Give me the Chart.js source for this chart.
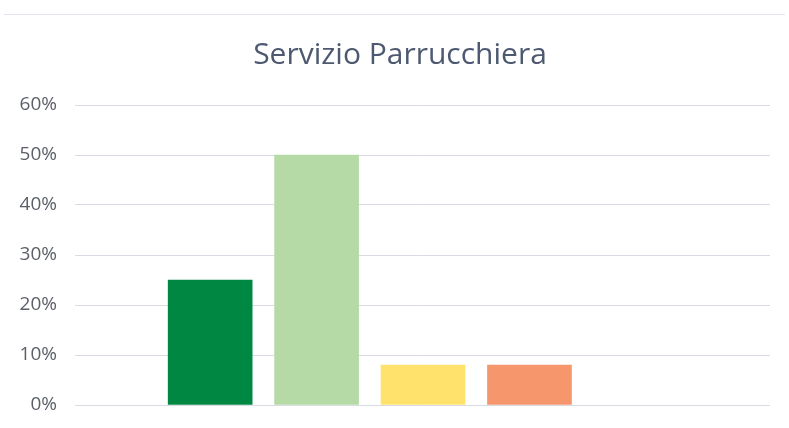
<!DOCTYPE html>
<html>
<head>
<meta charset="utf-8">
<script src="https://cdn.jsdelivr.net/npm/chart.js@4/dist/chart.umd.min.js"></script>
<style>
  html, body { margin: 0; padding: 0; background: #fff; }
  .wrap { position: relative; width: 789px; height: 428px; }
  .wrap::before {
    content: ''; position: absolute; left: 4px; right: 4px; top: 14px;
    border-top: 1px solid #e3e6ee;
  }
  canvas { display: block; }
</style>
</head>
<body>
<div class="wrap"><canvas id="chart" width="789" height="428"></canvas></div>
<script>
// ── DATA ──────────────────────────────────────────────────────────────
const TITLE      = 'Servizio Parrucchiera';
const CATEGORIES = ['Ottimo', 'Buono', 'Sufficiente', 'Scarso', 'Non risponde'];
const VALUES     = [0.25, 0.50, 0.08, 0.08, 0];
const COLORS     = ['#008843', '#b5daa5', '#ffe26c', '#f5966c', '#ffffff'];
const Y_TICKS    = [0, 0.1, 0.2, 0.3, 0.4, 0.5, 0.6];

// ── TITLE (drawn by hand so it can sit a little off the plot centre) ──
const titlePlugin = {
  id: 'centredTitle',
  afterDraw(chart) {
    const c = chart.ctx;
    c.save();
    c.font = '30px "Open Sans"';
    c.fillStyle = '#4d5970';
    c.textAlign = 'center';
    c.textBaseline = 'alphabetic';
    c.fillText(TITLE, 400, 64);
    c.restore();
  }
};

// ── CHART ─────────────────────────────────────────────────────────────
const ctx = document.getElementById('chart');

new Chart(ctx, {
  type: 'bar',
  data: {
    datasets: [{
      label: TITLE,
      data: VALUES.map((v, i) => ({ x: i, y: v })),
      backgroundColor: COLORS,
      borderWidth: 0,
      barThickness: 84,
    }]
  },
  options: {
    responsive: false,
    maintainAspectRatio: false,
    animation: false,
    layout: { padding: { top: 105, right: 19, bottom: 23, left: 0 } },
    plugins: {
      legend: { display: false },
      title: { display: false },
      tooltip: { callbacks: {
        title: items => CATEGORIES[items[0].parsed.x],
        label: c => ` ${Math.round(c.parsed.y * 100)}%`
      } }
    },
    scales: {
      x: {
        type: 'linear',
        display: false,
        offset: false,
        min: -1.27,
        max: 5.26,
        grid: { display: false }
      },
      y: {
        min: 0,
        max: 0.6,
        afterBuildTicks: s => { s.ticks = Y_TICKS.map(v => ({ value: v })); },
        afterFit: s => { s.width = 75; s.paddingTop = 0; s.paddingBottom = 0; },
        border: { display: false },
        grid: { color: '#d8dbe2', lineWidth: 1, drawTicks: false },
        ticks: {
          padding: 18,
          color: '#5a5f69',
          font: { family: 'Open Sans', size: 19 },
          callback: v => Math.round(v * 100) + '%'
        }
      }
    }
  },
  plugins: [titlePlugin]
});
</script>
</body>
</html>
